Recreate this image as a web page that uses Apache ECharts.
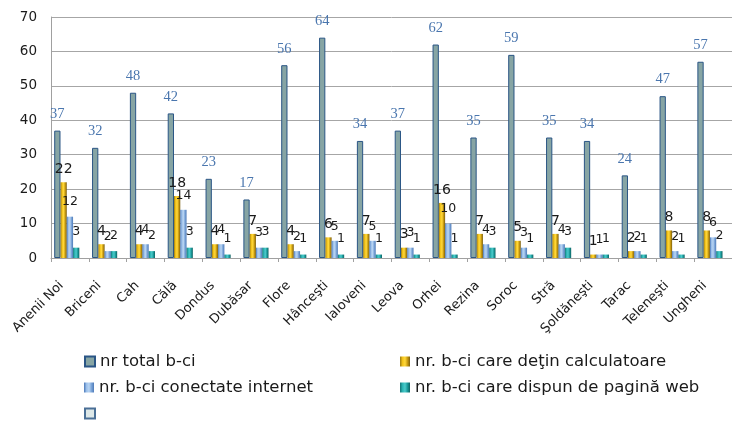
<!DOCTYPE html>
<html>
<head>
<meta charset="utf-8">
<script src="https://cdn.jsdelivr.net/npm/echarts@6/dist/echarts.min.js"></script>
<style>
  html, body { margin: 0; padding: 0; background: #fff; }
  #chart { width: 732px; height: 421px; }
</style>
</head>
<body>
<div id="chart"></div>
<script>
// raioane (etichetele asa cum apar pe axa)
const raioane = ['Anenii Noi', 'Briceni', 'Cah', 'Călă', 'Dondus', 'Dubăsar', 'Flore', 'Hânceşti', 'Ialoveni',
  'Leova', 'Orhei', 'Rezina', 'Soroc', 'Stră', 'Şoldăneşti', 'Tarac', 'Teleneşti', 'Ungheni'];
const totalBci = [37, 32, 48, 42, 23, 17, 56, 64, 34, 37, 62, 35, 59, 35, 34, 24, 47, 57];
const calculatoare = [22, 4, 4, 18, 4, 7, 4, 6, 7, 3, 16, 7, 5, 7, 1, 2, 8, 8];
const internet = [12, 2, 4, 14, 4, 3, 2, 5, 5, 3, 10, 4, 3, 4, 1, 2, 2, 6];
const paginaWeb = [3, 2, 2, 3, 1, 3, 1, 1, 1, 1, 1, 3, 1, 3, 1, 1, 1, 2];
const yTicks = { min: 0, max: 70, interval: 10 };

const names = [
  'nr total b-ci',
  'nr. b-ci care deţin calculatoare',
  'nr. b-ci conectate internet',
  'nr. b-ci care dispun de pagină web',
  '\u00a0'
];

const chart = echarts.init(document.getElementById('chart'));

// gradient orizontal pentru bare (efect "cilindru" ca in Excel)
function hGrad(stops) {
  return new echarts.graphic.LinearGradient(0, 0, 1, 0,
    stops.map((c, i) => ({ offset: i / (stops.length - 1), color: c })));
}

const labelSans = (size, dist) => ({
  show: true,
  position: 'top',
  distance: dist,
  fontFamily: 'DejaVu Sans',
  fontSize: size,
  color: '#1a1a1a'
});

// cate o legenda pentru fiecare element, asezate pe doua coloane
function legendItem(name, left, top) {
  return {
    left: left,
    top: top,
    padding: 0,
    itemWidth: 10,
    itemHeight: 10,
    icon: 'rect',
    data: [name],
    textStyle: { fontFamily: 'DejaVu Sans', fontSize: 16.5, color: '#1a1a1a', lineHeight: 16 }
  };
}

const option = {
  animation: false,
  grid: {
    left: 51,
    right: -5,
    top: 17,
    bottom: 163
  },
  legend: [
    legendItem(names[0], 84, 353),
    legendItem(names[2], 84, 379),
    legendItem(names[4], 84, 405),
    legendItem(names[1], 400, 353),
    legendItem(names[3], 400, 379)
  ],
  xAxis: {
    type: 'category',
    data: raioane,
    axisLine: { lineStyle: { color: '#a0a0a0', width: 1 } },
    axisTick: { show: true, length: 4, lineStyle: { color: '#a0a0a0' } },
    axisLabel: {
      rotate: 45,
      interval: 0,
      margin: 17,
      padding: [0, 12, 0, 0],
      fontFamily: 'DejaVu Sans',
      fontSize: 13,
      color: '#1a1a1a'
    }
  },
  yAxis: {
    type: 'value',
    min: yTicks.min,
    max: yTicks.max,
    interval: yTicks.interval,
    axisLine: { show: true, lineStyle: { color: '#a0a0a0' } },
    axisTick: { show: false },
    splitLine: { lineStyle: { color: '#a6a6a6', width: 1 } },
    axisLabel: {
      margin: 14,
      fontFamily: 'DejaVu Sans',
      fontSize: 13.5,
      color: '#1a1a1a'
    }
  },
  series: [
    {
      name: names[0],
      type: 'bar',
      data: totalBci,
      barGap: '0%',
      barCategoryGap: '17%',
      itemStyle: { color: '#87a5a4', borderColor: '#2a5585', borderWidth: 1 },
      label: {
        show: true,
        position: 'top',
        distance: 9,
        fontFamily: 'Liberation Serif',
        fontSize: 14.5,
        color: '#4a76ae'
      }
    },
    {
      name: names[1],
      type: 'bar',
      data: calculatoare,
      itemStyle: { color: hGrad(['#9a7a12', '#f2c21a', '#ffd83a', '#c89a10', '#7a5e0e']) },
      label: labelSans(14, 6)
    },
    {
      name: names[2],
      type: 'bar',
      data: internet,
      itemStyle: { color: hGrad(['#4a78b8', '#9cc0ea', '#b8d4f2', '#7aa4d8', '#4e7ab8']) },
      label: labelSans(12.5, 8)
    },
    {
      name: names[3],
      type: 'bar',
      data: paginaWeb,
      itemStyle: { color: hGrad(['#137474', '#2cb4b4', '#4ccaca', '#1a9a9a', '#0e6060']) },
      label: labelSans(12.5, 9)
    },
    {
      name: names[4],
      type: 'bar',
      data: [],
      itemStyle: { color: '#dde8e8', borderColor: '#4a6f96', borderWidth: 1 }
    }
  ]
};

chart.setOption(option);
</script>
</body>
</html>
